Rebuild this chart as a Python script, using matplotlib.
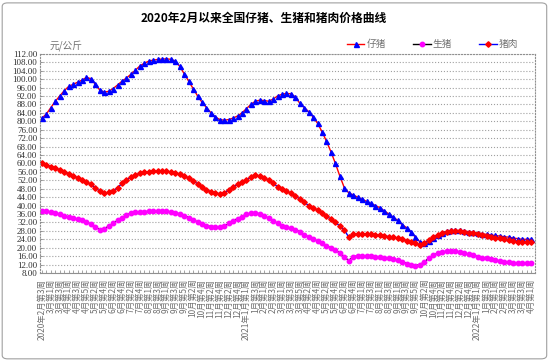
import matplotlib
matplotlib.use('Agg')
import matplotlib.pyplot as plt
from matplotlib.patches import FancyBboxPatch
import numpy as np

plt.rcParams['font.family'] = ['Liberation Serif', 'Noto Sans CJK SC', 'DejaVu Sans']

# (year, month, first week, number of weeks) for the weekly categories
month_weeks = [
    (2020, 2, 3, 2), (2020, 3, 1, 4), (2020, 4, 1, 5), (2020, 5, 1, 4), (2020, 6, 1, 4),
    (2020, 7, 1, 5), (2020, 8, 1, 4), (2020, 9, 1, 5), (2020, 10, 1, 4), (2020, 11, 1, 4),
    (2020, 12, 1, 5),
    (2021, 1, 1, 4), (2021, 2, 1, 4), (2021, 3, 1, 5), (2021, 4, 1, 4), (2021, 5, 1, 4),
    (2021, 6, 1, 5), (2021, 7, 1, 4), (2021, 8, 1, 4), (2021, 9, 1, 5), (2021, 10, 1, 4),
    (2021, 11, 1, 4), (2021, 12, 1, 5),
    (2022, 1, 1, 4), (2022, 2, 1, 4), (2022, 3, 1, 4), (2022, 4, 1, 1),
]

week_labels = []
for year, month, first, count in month_weeks:
    for w in range(first, first + count):
        if len(week_labels) == 0 or (month == 1 and w == 1):
            week_labels.append('%d年%d月第%d周' % (year, month, w))
        else:
            week_labels.append('%d月第%d周' % (month, w))

# 仔猪
piglet = [81.5, 83.5, 86.5, 89.5, 92.0, 94.5, 96.5, 97.5, 98.5, 99.5,
          100.8, 100.2, 97.5, 94.8, 93.8, 94.2, 95.5, 97.2, 99.0, 100.5,
          102.3, 104.2, 106.2, 107.5, 108.5, 109.0, 109.3, 109.5, 109.6, 109.4,
          108.5, 106.0, 102.5, 99.0, 95.5, 92.0, 89.0, 86.5, 84.0, 82.0,
          80.8, 80.5, 80.8, 81.5, 82.5, 84.0, 86.0, 88.0, 89.5, 90.0,
          89.8, 89.5, 90.5, 92.0, 92.8, 93.2, 93.0, 91.5, 88.5, 86.5,
          84.5, 82.0, 79.0, 75.0, 70.5, 65.5, 60.0, 54.0, 48.5, 46.0,
          45.0, 44.0, 43.0, 42.0, 41.0, 40.0, 39.0, 37.5, 36.0, 34.5,
          33.0, 31.0, 29.5, 27.5, 25.0, 22.8, 22.2, 23.0, 24.8, 26.2,
          27.0, 27.8, 28.2, 28.3, 28.2, 28.0, 27.6, 27.3, 27.0, 26.7,
          26.3, 26.0, 25.8, 25.5, 25.2, 25.0, 24.6, 24.3, 24.0, 24.0, 24.0]

# 生猪
hog = [37.6, 37.2, 36.8, 36.3, 35.8, 35.2, 34.6, 34.0, 33.5, 33.0,
       32.2, 31.2, 30.0, 28.5, 29.0, 30.2, 31.5, 33.0, 34.3, 35.5,
       36.3, 36.8, 37.0, 37.1, 37.2, 37.2, 37.3, 37.3, 37.2, 37.0,
       36.6, 36.0, 35.2, 34.3, 33.2, 32.2, 31.3, 30.5, 30.0, 29.8,
       29.8, 30.2, 31.5, 32.8, 33.8, 34.8, 35.8, 36.4, 36.6, 36.0,
       35.0, 34.0, 32.8, 31.5, 30.5, 29.8, 29.2, 28.5, 27.5, 26.2,
       25.0, 24.0, 23.2, 22.2, 21.0, 19.8, 18.8, 17.5, 15.8, 13.8,
       15.8, 16.0, 16.0, 16.0, 15.9, 15.8, 15.6, 15.3, 15.0, 14.6,
       14.0, 13.2, 12.5, 11.9, 11.5, 12.0, 13.2, 15.0, 16.4, 17.3,
       17.9, 18.3, 18.5, 18.3, 17.9, 17.4, 16.8, 16.3, 15.8, 15.3,
       14.9, 14.5, 14.1, 13.7, 13.4, 13.1, 12.9, 12.7, 12.6, 12.6, 12.7]

# 猪肉
pork = [60.0, 59.3, 58.5, 57.8, 57.0, 56.0, 55.2, 54.2, 53.2, 52.2,
        51.2, 50.0, 48.5, 46.8, 45.8, 46.2, 47.0, 48.5, 50.5, 52.2,
        53.5, 54.5, 55.3, 55.8, 56.0, 56.2, 56.2, 56.3, 56.2, 56.0,
        55.5, 55.0, 54.2, 53.0, 51.8, 50.3, 48.8, 47.5, 46.5, 46.0,
        45.6, 46.0, 47.5, 49.0, 50.0, 51.0, 52.2, 53.5, 54.5, 54.0,
        53.0, 52.0, 50.5, 49.0, 47.8, 46.8, 45.8, 44.5, 43.2, 41.5,
        40.0, 38.8, 37.8, 36.5, 35.0, 33.5, 32.0, 30.3, 28.5, 25.0,
        26.5, 26.5, 26.5, 26.4, 26.3, 26.1, 25.9, 25.6, 25.3, 25.0,
        24.6, 24.0, 23.4, 22.8, 22.0, 21.5, 22.2, 23.5, 25.0, 26.2,
        27.0, 27.6, 28.0, 28.0, 27.9, 27.6, 27.2, 26.8, 26.4, 26.0,
        25.6, 25.2, 24.8, 24.4, 24.0, 23.6, 23.2, 22.9, 22.7, 22.6, 22.6]

x = np.arange(len(week_labels))

fig = plt.figure(figsize=(5.5, 3.61), dpi=100)
ax = fig.add_axes([0.0727, 0.2438, 0.9, 0.6072])

ax.plot(x, piglet, color='red', lw=1, marker='^', ms=3.6, mfc='blue', mec='blue', label='仔猪')
ax.plot(x, hog, color='black', lw=1, marker='o', ms=3.2, mfc='magenta', mec='magenta', label='生猪')
ax.plot(x, pork, color='blue', lw=1, marker='D', ms=2.8, mfc='red', mec='red', label='猪肉')

ax.set_ylim(8, 112)
ax.set_yticks(np.arange(8, 113, 4))
ax.set_yticklabels(['%.2f' % v for v in np.arange(8, 113, 4)])
ax.set_xlim(-0.45, len(x) - 0.1)
ax.set_xticks(x)
ax.set_xticklabels([lab if i % 2 == 0 else '' for i, lab in enumerate(week_labels)],
                   rotation=90, fontsize=6, color='#707070',
                   family=['Noto Sans CJK SC', 'DejaVu Sans'])
ax.tick_params(axis='x', direction='in', length=2, width=0.5, color='#808080', pad=4)
ax.tick_params(axis='y', direction='in', length=2, width=0.5, color='#808080', labelsize=6.5,
               labelcolor='#303030', pad=2)

ax.grid(axis='y', color='#a0a0a0', linestyle=':', linewidth=0.8)
ax.set_axisbelow(True)
for side in ['top', 'right', 'left']:
    ax.spines[side].set_linestyle(':')
    ax.spines[side].set_color('#909090')
    ax.spines[side].set_linewidth(0.8)
ax.spines['bottom'].set_color('#909090')
ax.spines['bottom'].set_linewidth(0.8)

fig.text(0.479, 0.95, '2020年2月以来全国仔猪、生猪和猪肉价格曲线', ha='center', va='center',
         fontsize=8.5, fontweight='bold', family=['Noto Sans CJK SC', 'DejaVu Sans'])
fig.text(0.09, 0.875, '元/公斤', ha='left', va='center', fontsize=7, color='#707070',
         family=['Noto Sans CJK SC', 'DejaVu Sans'])

leg = ax.legend(loc='lower right', bbox_to_anchor=(0.975, 1.0), ncol=3, frameon=False,
                handlelength=1.8, columnspacing=2.8, handletextpad=0.2, borderaxespad=0.05,
                prop={'family': ['Noto Sans CJK SC', 'DejaVu Sans'], 'size': 7})
for t in leg.get_texts():
    t.set_color('#707070')

border = FancyBboxPatch((0.004, 0.006), 0.99, 0.986, boxstyle='round,pad=0,rounding_size=0.01',
                        transform=fig.transFigure, fill=False, ec='#a0a0a0', lw=0.8)
fig.patches.append(border)

fig.savefig('out.png', dpi=100)
